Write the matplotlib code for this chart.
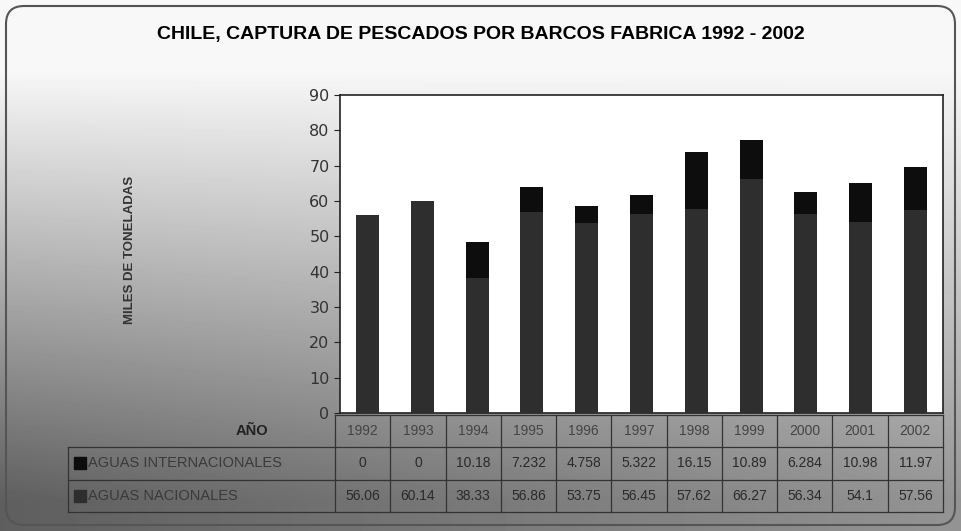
import numpy as np
import matplotlib
matplotlib.use("Agg")
import matplotlib.pyplot as plt
from matplotlib.patches import FancyBboxPatch, Rectangle

years = ["1992", "1993", "1994", "1995", "1996", "1997", "1998", "1999", "2000", "2001", "2002"]
internacionales = [0, 0, 10.18, 7.232, 4.758, 5.322, 16.15, 10.89, 6.284, 10.98, 11.97]
nacionales = [56.06, 60.14, 38.33, 56.86, 53.75, 56.45, 57.62, 66.27, 56.34, 54.1, 57.56]
int_labels = ["0", "0", "10.18", "7.232", "4.758", "5.322", "16.15", "10.89", "6.284", "10.98", "11.97"]
nac_labels = ["56.06", "60.14", "38.33", "56.86", "53.75", "56.45", "57.62", "66.27", "56.34", "54.1", "57.56"]

c_int = "#0d0d0d"
c_nac = "#2e2e2e"

W, H = 961, 531
fig = plt.figure(figsize=(W / 100, H / 100), dpi=100)

# grey background (smooth gradient, lighter at top)
bg = fig.add_axes([0, 0, 1, 1], zorder=0)
yy, xx = np.mgrid[0:H, 0:W]
t = np.clip((yy - 70) / 430.0, 0, 1) * (1.0 - 0.35 * xx / W)
shade = np.clip(0.97 - 0.6 * t, 0, 1)
bg.imshow(shade, cmap="gray", vmin=0, vmax=1, extent=[0, W, H, 0], aspect="auto")
bg.set_xlim(0, W)
bg.set_ylim(H, 0)
bg.axis("off")
bg.add_patch(FancyBboxPatch((6, 6), W - 12, H - 12, boxstyle="round,pad=0,rounding_size=18",
                            fill=False, ec="#555555", lw=1.5))

fig.text(0.5, 1 - 35 / H, "CHILE, CAPTURA DE PESCADOS POR BARCOS FABRICA 1992 - 2002",
         ha="center", va="center", fontsize=14, fontweight="bold", family="Liberation Sans")

# main chart
ax = fig.add_axes([340 / W, 1 - 413 / H, (943 - 340) / W, (413 - 95) / H], zorder=2)
x = np.arange(len(years))
ax.bar(x, nacionales, width=0.42, color=c_nac, zorder=3)
ax.bar(x, internacionales, width=0.42, bottom=nacionales, color=c_int, zorder=3)
ax.set_xlim(-0.5, len(years) - 0.5)
ax.set_ylim(0, 90)
ax.set_yticks(range(0, 91, 10))
ax.set_xticks([])
ax.tick_params(axis="y", labelsize=11.5, length=4, color="#222222", labelcolor="#333333")
for s in ax.spines.values():
    s.set_color("#222222")
    s.set_linewidth(1.2)
ax.set_facecolor("white")
fig.text(130 / W, 1 - 250 / H, "MILES DE TONELADAS", rotation=90, ha="center", va="center",
         fontsize=9.5, fontweight="bold", color="#333333", family="Liberation Sans")

# data table
x0, x1 = 335, 943
cw = (x1 - x0) / len(years)
row_y = [431, 463, 496]
lc = "#333333"
fig.text(252 / W, 1 - row_y[0] / H, "AÑO", ha="center", va="center", fontsize=10.5,
         fontweight="bold", color="#222222", family="Liberation Sans")
for i, yr in enumerate(years):
    cx = x0 + (i + 0.5) * cw
    fig.text(cx / W, 1 - row_y[0] / H, yr, ha="center", va="center", fontsize=10, color="#444444",
             family="Liberation Sans")
    fig.text(cx / W, 1 - row_y[1] / H, int_labels[i], ha="center", va="center", fontsize=10,
             color="#2a2a2a", family="Liberation Sans")
    fig.text(cx / W, 1 - row_y[2] / H, nac_labels[i], ha="center", va="center", fontsize=10,
             color="#2a2a2a", family="Liberation Sans")

names = ["AGUAS INTERNACIONALES", "AGUAS NACIONALES"]
cols = [c_int, c_nac]
for r in range(2):
    cy = row_y[r + 1]
    bg.add_patch(Rectangle((74, cy - 6), 12, 12, color=cols[r], zorder=3))
    bg.text(88, cy, names[r], ha="left", va="center", fontsize=10.5, color="#3a3a3a",
            family="Liberation Sans", zorder=3)

# table grid lines
for i in range(len(years) + 1):
    xv = x0 + i * cw
    bg.plot([xv, xv], [415, 512], color=lc, lw=0.9, zorder=3)
bg.plot([x0, x1], [415, 415], color=lc, lw=0.9, zorder=3)
for yv in [447, 480, 512]:
    bg.plot([68, x1], [yv, yv], color=lc, lw=0.9, zorder=3)
bg.plot([68, 68], [447, 512], color=lc, lw=0.9, zorder=3)

fig.savefig("out.png", dpi=100)
